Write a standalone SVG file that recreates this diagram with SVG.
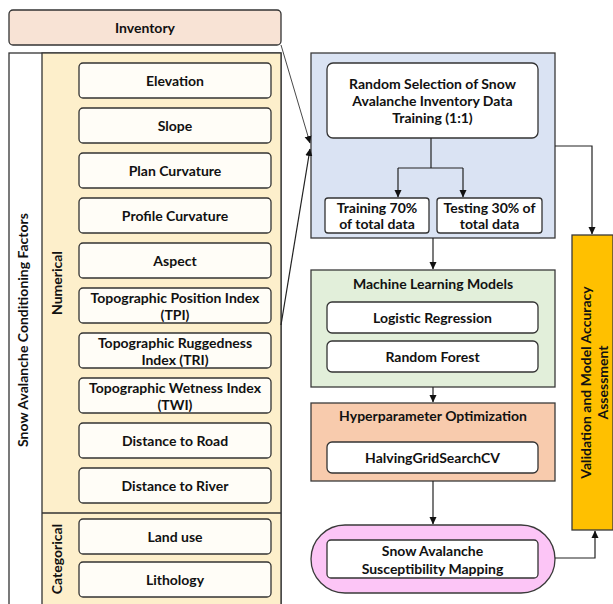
<svg xmlns="http://www.w3.org/2000/svg" width="613" height="604" viewBox="0 0 613 604">
<style>
text{font-family:Lato,"Liberation Sans",sans-serif;font-weight:bold;font-size:14px;fill:#111;text-anchor:middle;dominant-baseline:central}
.box{fill:#fffdf7;stroke:#333;stroke-width:1.3}
.wbox{fill:#fff;stroke:#333;stroke-width:1.3}
.panel{stroke:#3a3a3a;stroke-width:1.3}
.con{fill:none;stroke:#222;stroke-width:1.2}
.thin{fill:none;stroke:#333;stroke-width:0.9}
</style>
<defs>
<marker id="ah" markerWidth="8" markerHeight="8" refX="7" refY="4" orient="auto" markerUnits="userSpaceOnUse">
<path d="M0,0.5 L7.5,4 L0,7.5 z" fill="#111"/>
</marker>
</defs>
<rect width="613" height="604" fill="#fff"/>

<g id="inventory">
<rect x="9" y="10" width="272" height="35" rx="4" fill="#f8e3d5" stroke="#333" stroke-width="1.3"/>
<text x="145" y="27.5">Inventory</text>
</g>

<g id="factors">
<rect x="9" y="53" width="272" height="560" fill="#fff" stroke="#333" stroke-width="1.3"/>
<rect x="42" y="53" width="239" height="560" fill="#fdefcb" stroke="#333" stroke-width="1.3"/>
<line x1="42" y1="513" x2="281" y2="513" stroke="#333" stroke-width="1.3"/>
<text x="22" y="330" transform="rotate(-90 22 330)">Snow Avalanche Conditioning Factors</text>
<text x="56" y="283" transform="rotate(-90 56 283)">Numerical</text>
<text x="56" y="559" transform="rotate(-90 56 559)">Categorical</text>
</g>

<g id="elevation"><rect class="box" x="79" y="63" width="192" height="35" rx="4"/><text x="175" y="80.5">Elevation</text></g>
<g id="slope"><rect class="box" x="79" y="108" width="192" height="35" rx="4"/><text x="175" y="125.5">Slope</text></g>
<g id="plan"><rect class="box" x="79" y="153" width="192" height="35" rx="4"/><text x="175" y="170.5">Plan Curvature</text></g>
<g id="profile"><rect class="box" x="79" y="198" width="192" height="35" rx="4"/><text x="175" y="215.5">Profile Curvature</text></g>
<g id="aspect"><rect class="box" x="79" y="243" width="192" height="35" rx="4"/><text x="175" y="260.5">Aspect</text></g>
<g id="tpi"><rect class="box" x="79" y="288" width="192" height="35" rx="4"/><text x="175" y="297.5">Topographic Position Index</text><text x="175" y="314">(TPI)</text></g>
<g id="tri"><rect class="box" x="79" y="333" width="192" height="35" rx="4"/><text x="175" y="342.5">Topographic Ruggedness</text><text x="175" y="359">Index (TRI)</text></g>
<g id="twi"><rect class="box" x="79" y="378" width="192" height="35" rx="4"/><text x="175" y="387.5">Topographic Wetness Index</text><text x="175" y="404">(TWI)</text></g>
<g id="road"><rect class="box" x="79" y="423" width="192" height="35" rx="4"/><text x="175" y="440.5">Distance to Road</text></g>
<g id="river"><rect class="box" x="79" y="468" width="192" height="35" rx="4"/><text x="175" y="485.5">Distance to River</text></g>
<g id="landuse"><rect class="box" x="79" y="519" width="192" height="35" rx="4"/><text x="175" y="536.5">Land use</text></g>
<g id="lithology"><rect class="box" x="79" y="562" width="192" height="35" rx="4"/><text x="175" y="579.5">Lithology</text></g>

<g id="data-panel">
<rect class="panel" x="311" y="53" width="244" height="185" fill="#dae3f3"/>
</g>
<g id="random-selection">
<rect class="wbox" x="327" y="63" width="211" height="75" rx="6"/>
<text x="432.5" y="83">Random Selection of Snow</text>
<text x="432.5" y="100">Avalanche Inventory Data</text>
<text x="432.5" y="117">Training (1:1)</text>
</g>
<g id="training"><rect class="wbox" x="325" y="198" width="104" height="35" rx="3"/><text x="377" y="207">Training 70%</text><text x="377" y="223">of total data</text></g>
<g id="testing"><rect class="wbox" x="437" y="198" width="105" height="35" rx="3"/><text x="489.5" y="207">Testing 30% of</text><text x="489.5" y="223">total data</text></g>

<g id="ml-models">
<rect class="panel" x="311" y="270" width="244" height="117" fill="#e2efda"/>
<text x="433" y="283">Machine Learning Models</text>
<rect class="wbox" x="327" y="302" width="211" height="31" rx="5"/><text x="432.5" y="317.5">Logistic Regression</text>
<rect class="wbox" x="327" y="341" width="211" height="31" rx="5"/><text x="432.5" y="356.5">Random Forest</text>
</g>

<g id="hyperparameter">
<rect class="panel" x="311" y="403" width="244" height="78" fill="#f8cbad"/>
<text x="433" y="415">Hyperparameter Optimization</text>
<rect class="wbox" x="327" y="442" width="211" height="31" rx="5"/><text x="432.5" y="457.5">HalvingGridSearchCV</text>
</g>

<g id="mapping">
<rect class="panel" x="311" y="525" width="244" height="68" rx="34" fill="#fcc5f6"/>
<rect class="wbox" x="327" y="540" width="211" height="38" rx="4"/>
<text x="432.5" y="550">Snow Avalanche</text>
<text x="432.5" y="568">Susceptibility Mapping</text>
</g>

<g id="validation">
<rect class="panel" x="572" y="235" width="41" height="295" fill="#ffc000"/>
<text x="585" y="382.5" transform="rotate(-90 585 382.5)">Validation and Model Accuracy</text>
<text x="602" y="382.5" transform="rotate(-90 602 382.5)">Assessment</text>
</g>

<g id="connectors">
<line class="thin" x1="281" y1="45" x2="310" y2="143" marker-end="url(#ah)"/>
<line class="con" x1="281" y1="325" x2="310" y2="149" marker-end="url(#ah)"/>
<polyline class="con" points="431,138 431,168"/>
<polyline class="con" points="398,168 463,168"/>
<line class="con" x1="398" y1="168" x2="398" y2="197" marker-end="url(#ah)"/>
<line class="con" x1="463" y1="168" x2="463" y2="197" marker-end="url(#ah)"/>
<polyline class="con" points="555,146 592,146 592,234" marker-end="url(#ah)"/>
<line class="con" x1="433" y1="238" x2="433" y2="269" marker-end="url(#ah)"/>
<line class="con" x1="433" y1="387" x2="433" y2="402" marker-end="url(#ah)"/>
<line class="con" x1="433" y1="481" x2="433" y2="524" marker-end="url(#ah)"/>
<polyline class="con" points="555,558 595,558 595,531" marker-end="url(#ah)"/>
</g>
</svg>
